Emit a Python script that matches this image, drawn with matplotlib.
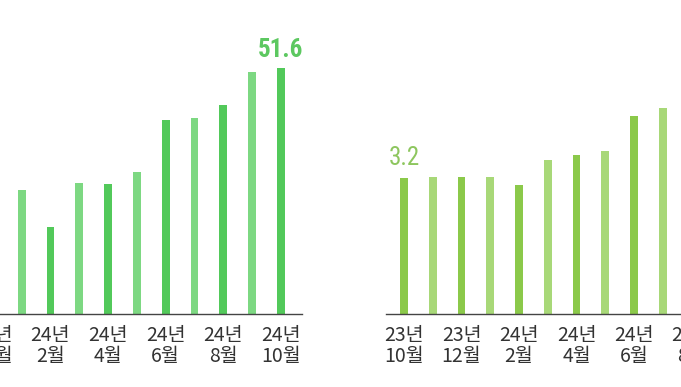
import numpy as np
import matplotlib
matplotlib.use("Agg")
import matplotlib.pyplot as plt
from matplotlib import font_manager

# ---- data ----
left_labels = ["23년\n12월", "24년\n1월", "24년\n2월", "24년\n3월", "24년\n4월", "24년\n5월",
               "24년\n6월", "24년\n7월", "24년\n8월", "24년\n9월", "24년\n10월"]
left_values = [np.nan, 26.1, 18.4, 27.5, 27.3, 29.9, 40.7, 41.1, 43.8, 50.8, 51.6]

right_labels = ["23년\n10월", "23년\n11월", "23년\n12월", "24년\n1월", "24년\n2월", "24년\n3월",
                "24년\n4월", "24년\n5월", "24년\n6월", "24년\n7월", "24년\n8월"]
right_values = [3.2, 3.23, 3.23, 3.23, 3.04, 3.63, 3.74, 3.84, 4.66, 4.86, np.nan]

left_note = "51.6"
right_note = "3.2"

# ---- style ----
avail = {f.name for f in font_manager.fontManager.ttflist}
num_font = "Liberation Sans"
for cand in ["Roboto Condensed", "Barlow Semi Condensed", "Barlow Condensed",
             "Liberation Sans Narrow", "Archivo Narrow", "PT Sans Narrow"]:
    if cand in avail:
        num_font = cand
        break
plt.rcParams['font.family'] = ['Noto Sans CJK KR', 'DejaVu Sans']

W, H = 681, 387
fig = plt.figure(figsize=(W / 100, H / 100), dpi=100)

def px_axes(x0, x1, y_base, y_top):
    return fig.add_axes([x0 / W, (H - y_base) / H, (x1 - x0) / W, (y_base - y_top) / H])

def style(ax):
    for s in ['top', 'right', 'left']:
        ax.spines[s].set_visible(False)
    ax.spines['bottom'].set_color('#444444')
    ax.spines['bottom'].set_linewidth(1.0)
    ax.set_yticks([])
    ax.tick_params(axis='x', length=0, pad=8, labelsize=14, colors='#333333')

# left chart
axL = px_axes(-50.4, 301.7, 314.3, 0)
xl = np.arange(len(left_values))
colsL = ['#52c95a' if i % 2 == 0 else '#7dd882' for i in xl]
axL.bar(xl, left_values, width=0.27, color=colsL)
axL.set_xlim(-1.5, 10.72)
axL.set_ylim(0, 65.9)
axL.set_xticks(xl[::2])
axL.set_xticklabels(left_labels[::2], linespacing=0.95)
style(axL)
axL.text(xl[-1], left_values[-1] + 2.4, left_note, ha='center', va='baseline',
         fontsize=18, fontweight='bold', color='#5cc860', family=num_font)

# right chart
axR = px_axes(386, 734.5, 314.3, 0)
xr = np.arange(len(right_values))
colsR = ['#8bc94a' if i % 2 == 0 else '#a8d878' for i in xr]
axR.bar(xr, right_values, width=0.27, color=colsR)
axR.set_xlim(-0.63, 11.5)
axR.set_ylim(0, 7.40)
axR.set_xticks(xr[::2])
axR.set_xticklabels(right_labels[::2], linespacing=0.95)
style(axR)
axR.text(xr[0], right_values[0] + 0.31, right_note, ha='center', va='baseline',
         fontsize=18, color='#8dc65e', family=num_font)

fig.savefig("out.png", dpi=100)
